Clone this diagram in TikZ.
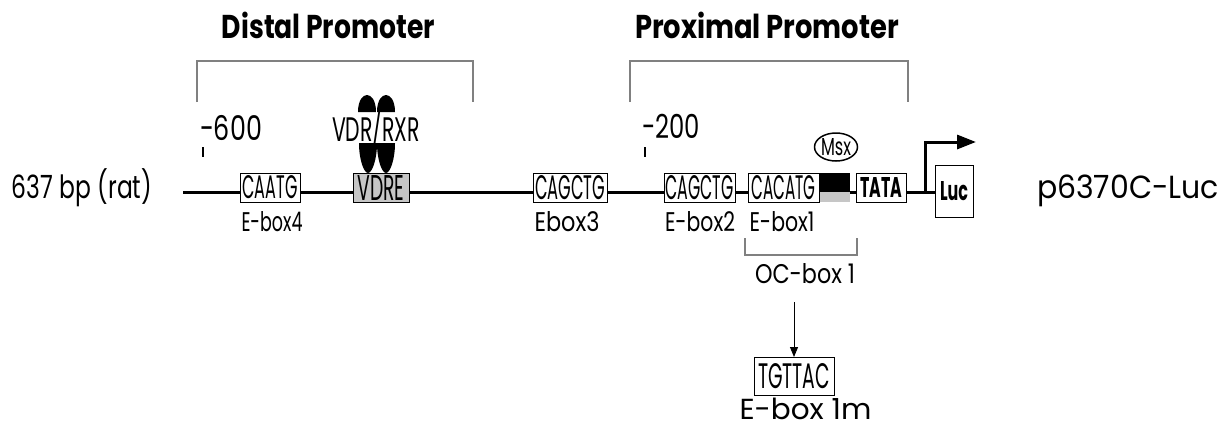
\documentclass[tikz,border=0pt]{standalone}
\usepackage{fontspec}
\setmainfont{Poppins}
\usetikzlibrary{arrows.meta,shapes.geometric}
\newcommand{\fw}[2]{\resizebox{#1}{\height}{#2}}
\newcommand{\fwh}[3]{\resizebox{#1}{#2}{#3}}
\begin{document}
\begin{tikzpicture}[x=1pt,y=-1pt,
  lbl/.style={inner sep=0pt, outer sep=0pt},
  seqbox/.style={draw=black, line width=0.9pt, fill=white, inner sep=0pt, outer sep=0pt, minimum height=29pt},
  dna/.style={line width=3pt},
  brk/.style={draw=gray, line width=1.3pt},
  tick/.style={line width=2.6pt}
]
\useasboundingbox (0,0) rectangle (1220,429);

% titles
\node[lbl, anchor=base] (distal) at (328.5,38) {\fw{213pt}{\fontsize{33}{33}\selectfont\bfseries Distal Promoter}};
\node[lbl, anchor=base] (proximal) at (767,38) {\fw{264pt}{\fontsize{33}{33}\selectfont\bfseries Proximal Promoter}};

% brackets
\draw[brk] (197,102) -- (197,61) -- (473,61) -- (473,102);
\draw[brk] (630,102) -- (630,61) -- (908,61) -- (908,102);

% position labels and ticks
\node[lbl, anchor=base] (p600) at (231,140) {\fw{62pt}{\fontsize{34}{34}\selectfont -600}};
\node[lbl, anchor=base] (p200) at (671,138) {\fw{58pt}{\fontsize{33}{33}\selectfont -200}};
\draw[tick] (203,147) -- (203,157);
\draw[tick] (645,147) -- (645,157);

% side labels
\node[lbl, anchor=base] (rat) at (82,198) {\fw{140pt}{\fontsize{32}{32}\selectfont 637 bp (rat)}};
\node[lbl, anchor=base] (plasmid) at (1128,198) {\fw{182pt}{\fontsize{32}{32}\selectfont p6370C-Luc}};

% VDR/RXR dimer: upper and lower parts, interrupted by the label
\fill[black] (358,112) .. controls (358,100) and (363,95) .. (367,95) .. controls (371,95) and (376,100) .. (376,112) -- cycle;
\fill[black] (377,112) .. controls (377,100) and (382,95) .. (386,95) .. controls (390,95) and (395,100) .. (395,112) -- cycle;
\fill[black] (359,143) .. controls (359,160) and (364,173) .. (368,173) .. controls (372,173) and (377,160) .. (377,143) -- cycle;
\fill[black] (377,143) .. controls (377,160) and (382,173) .. (386,173) .. controls (390,173) and (395,160) .. (395,143) -- cycle;
\node[lbl, anchor=base] (vdrrxr) at (376,141) {\fw{88pt}{\fontsize{34}{34}\selectfont VDR/RXR}};

% sequence boxes
\coordinate (start) at (183,192);
\node[seqbox, minimum width=60pt] (caatg) at (270,187.5) {\fwh{55pt}{23pt}{CAATG}};
\node[seqbox, minimum width=56pt, fill=gray!45] (vdre) at (381,187.5) {\fwh{47pt}{25pt}{VDRE}};
\node[seqbox, minimum width=74pt] (ebox3) at (570,187.5) {\fwh{70pt}{24pt}{CAGCTG}};
\node[seqbox, minimum width=71pt] (ebox2) at (699.5,187.5) {\fwh{68pt}{24pt}{CAGCTG}};
\node[seqbox, minimum width=71pt] (ebox1) at (783.5,187.5) {\fwh{64pt}{24pt}{CACATG}};
\node[lbl, fill=black, minimum width=30pt, minimum height=19pt, anchor=north west] (msxtop) at (820,173) {};
\node[lbl, fill=gray!45, minimum width=30pt, minimum height=10pt, anchor=north west] (msxbot) at (820,192) {};
\node[seqbox, minimum width=50pt] (tata) at (881,187.5) {\fwh{42pt}{20pt}{\bfseries TATA}};
\node[draw=black, line width=0.9pt, fill=white, inner sep=0pt, minimum width=38pt, minimum height=52pt] (luc) at (954,191) {\fwh{28pt}{19pt}{\bfseries Luc}};

% DNA line segments
\draw[dna] (start) -- (caatg.west |- start);
\draw[dna] (caatg.east |- start) -- (vdre.west |- start);
\draw[dna] (vdre.east |- start) -- (ebox3.west |- start);
\draw[dna] (ebox3.east |- start) -- (ebox2.west |- start);
\draw[dna] (ebox2.east |- start) -- (ebox1.west |- start);
\draw[dna] (msxbot.east |- start) -- (tata.west |- start);
\draw[dna] (tata.east |- start) -- (luc.west |- start);

% transcription start arrow
\coordinate (tss) at (925,192);
\draw[line width=3pt, -{Triangle[length=19pt,width=14pt]}] (tss) -- (925,142) -- (976,142);

% Msx
\node[draw=black, line width=1.5pt, ellipse, inner sep=0pt, minimum width=43pt, minimum height=28pt] (msx) at (836,147) {\fwh{30pt}{17pt}{Msx}};

% labels under boxes
\node[lbl, anchor=base] (l4) at (272,231) {\fw{61pt}{\fontsize{27}{27}\selectfont E-box4}};
\node[lbl, anchor=base] (l3) at (567,231) {\fw{65pt}{\fontsize{27}{27}\selectfont Ebox3}};
\node[lbl, anchor=base] (l2) at (700,231) {\fw{70pt}{\fontsize{27}{27}\selectfont E-box2}};
\node[lbl, anchor=base] (l1) at (782,231) {\fw{65pt}{\fontsize{27}{27}\selectfont E-box1}};

% OC-box bracket
\draw[brk] (745,238) -- (745,255) -- (857,255) -- (857,238);
\node[lbl, anchor=base] (oc) at (805,283) {\fw{100pt}{\fontsize{27}{27}\selectfont OC-box 1}};

% mutant
\node[seqbox, minimum width=80pt, minimum height=38pt] (mut) at (794,376) {\fwh{72pt}{25pt}{TGTTAC}};
\coordinate (arrtop) at (794,302);
\draw[line width=0.9pt, -{Triangle[length=10pt,width=8pt]}] (arrtop) -- (mut.north);
\node[lbl, anchor=base] (m1) at (805.5,419) {\fw{132pt}{\fontsize{29}{29}\selectfont E-box 1m}};

\end{tikzpicture}
\end{document}
